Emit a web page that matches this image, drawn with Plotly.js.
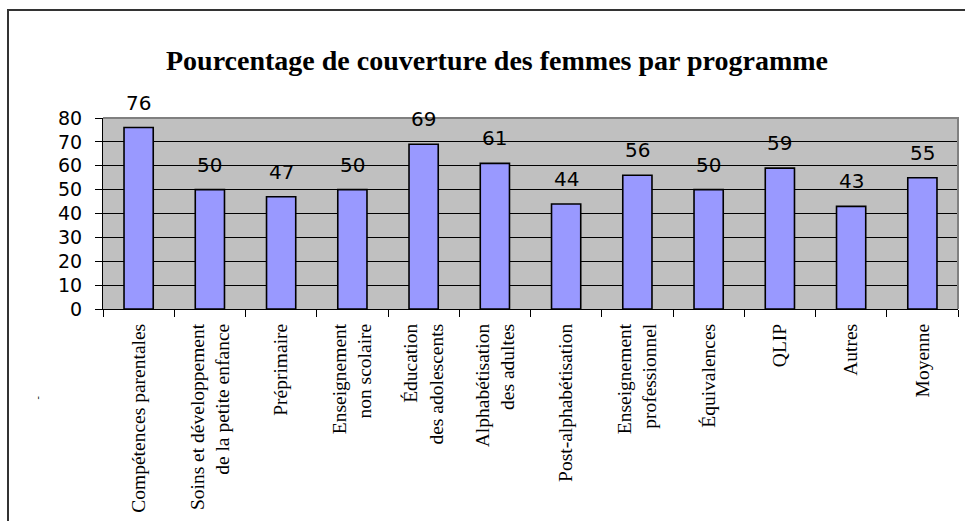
<!DOCTYPE html>
<html>
<head>
<meta charset="utf-8">
<script src="https://cdn.plot.ly/plotly-3.0.1.min.js"></script>
<style>
html,body{margin:0;padding:0;background:#fff;overflow:hidden;}
#wrap{position:relative;width:965px;height:521px;overflow:hidden;}
#frame{position:absolute;left:7px;top:9px;width:1100px;height:700px;border:2px solid #333;box-sizing:border-box;}
#chart{position:absolute;left:0;top:0;width:965px;height:521px;}
</style>
</head>
<body>
<div id="wrap">
<div id="frame"></div>
<div id="chart"></div>
</div>
<script>
const categories = [
  "Compétences parentales",
  "Soins et développement<br>de la petite enfance",
  "Préprimaire",
  "Enseignement<br>non scolaire",
  "Éducation<br>des adolescents",
  "Alphabétisation<br>des adultes",
  "Post-alphabétisation",
  "Enseignement<br>professionnel",
  "Équivalences",
  "QLIP",
  "Autres",
  "Moyenne"
];
const values = [76, 50, 47, 50, 69, 61, 44, 56, 50, 59, 43, 55];
const valueLabels = ["76", "50", "47", "50", "69", "61", "44", "56", "50", "59", "43", "55"];
const yTicks = [0, 10, 20, 30, 40, 50, 60, 70, 80];
const chartTitle = "Pourcentage de couverture des femmes par programme";

const trace = {
  type: "bar",
  x: categories,
  y: values,
  marker: {color: "#9999FF", line: {color: "#000000", width: 1.6}},
  hoverinfo: "x+y"
};

const annotations = categories.map((c, i) => ({
  x: c, y: values[i], xref: "x", yref: "y",
  text: valueLabels[i], showarrow: false,
  yanchor: "bottom", yshift: 11,
  font: {family: "DejaVu Sans, sans-serif", size: 20, color: "#000"}
}));
annotations.push({
  xref: "paper", yref: "paper", x: -0.085, y: -0.482,
  text: "-", showarrow: false, textangle: -90,
  font: {family: "Liberation Serif, serif", size: 10, color: "#000"}
});

const layout = {
  width: 965, height: 521,
  margin: {l: 103, r: 7, t: 118, b: 212, pad: 0},
  paper_bgcolor: "rgba(0,0,0,0)",
  plot_bgcolor: "#C0C0C0",
  showlegend: false,
  bargap: 0.59,
  title: {
    text: "<b>" + chartTitle + "</b>",
    font: {family: "Liberation Serif, Times New Roman, serif", size: 28, color: "#000"},
    x: 0.515, xref: "container", xanchor: "center",
    y: 1 - 60/521, yref: "container", yanchor: "middle"
  },
  xaxis: {
    type: "category",
    tickangle: -90,
    tickson: "boundaries",
    ticks: "outside", ticklen: 7, tickcolor: "#000", tickwidth: 1,
    ticklabelstandoff: 6,
    showline: true, linecolor: "#000", linewidth: 1,
    showgrid: false,
    tickfont: {family: "Liberation Serif, Times New Roman, serif", size: 19.5, color: "#000"},
    automargin: false
  },
  yaxis: {
    range: [0, 80],
    tickvals: yTicks,
    ticktext: yTicks.map(String),
    ticks: "outside", ticklen: 7, tickcolor: "#000", tickwidth: 1,
    ticklabelstandoff: 9,
    showline: true, linecolor: "#000", linewidth: 1,
    showgrid: true, gridcolor: "#000", gridwidth: 1,
    zeroline: false,
    tickfont: {family: "DejaVu Sans, sans-serif", size: 19, color: "#000"},
    automargin: false
  },
  annotations: annotations,
  shapes: [
    {type: "path", xref: "paper", yref: "paper", path: "M0,1 L1,1 L1,0",
     line: {color: "#808080", width: 2}, layer: "above"}
  ]
};

Plotly.newPlot("chart", [trace], layout, {displayModeBar: false, staticPlot: true});
</script>
</body>
</html>
